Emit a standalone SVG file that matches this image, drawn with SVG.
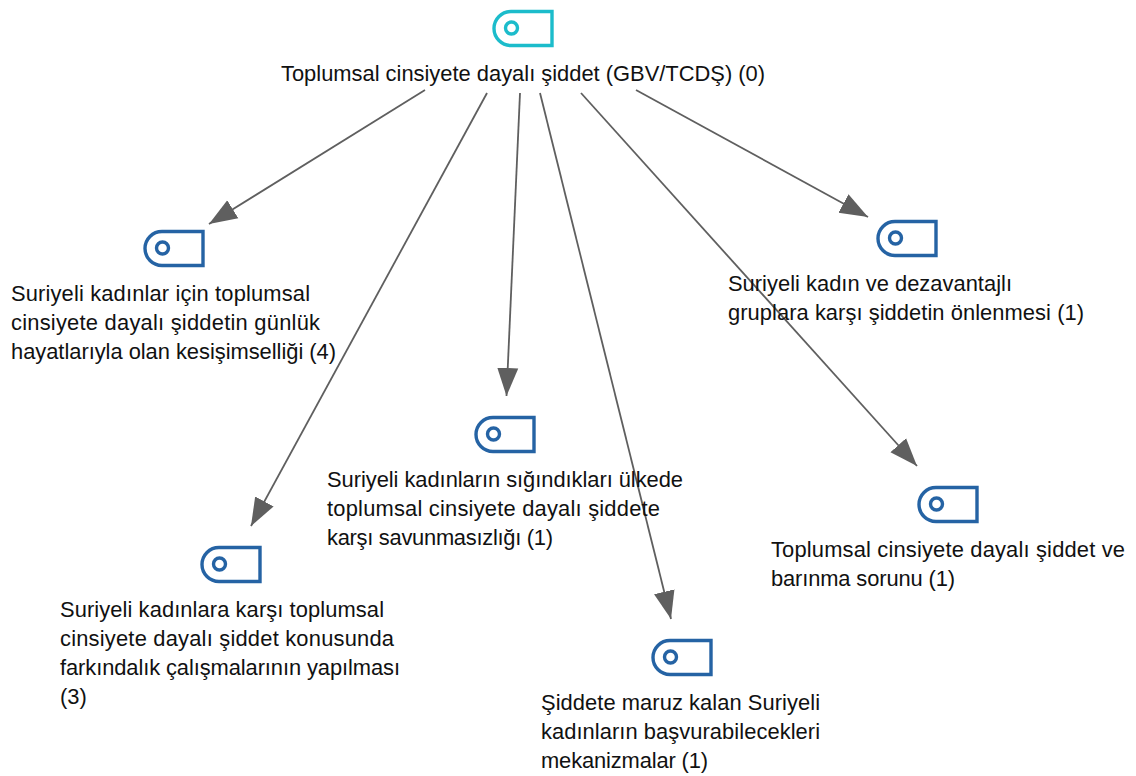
<svg xmlns="http://www.w3.org/2000/svg" width="1136" height="776" viewBox="0 0 1136 776">
<style>
text{font-family:"Liberation Sans",Arial,sans-serif;font-size:21.9px;fill:#111}
.conn{stroke:#5f5f5f;stroke-width:1.8;fill:none;marker-end:url(#arr)}
.ic{fill:#fff;stroke-width:3.4}
.b{stroke:#2563a4}
.c{stroke:#1cbccb}
</style>
<defs>
<marker id="arr" markerUnits="userSpaceOnUse" markerWidth="32" markerHeight="24" refX="28" refY="12" orient="auto"><path d="M0,1.500 L28,12 L0,22.500 Z" fill="#5f5f5f"/></marker>
<g id="tag"><path d="M59,1.500 H18 A17,17 0 0 0 18,35.500 H59 Z"/><circle cx="18.500" cy="18" r="6"/></g>
</defs>
<g id="connectors">
<line class="conn" x1="425" y1="90" x2="209" y2="224"/>
<line class="conn" x1="487" y1="93" x2="251" y2="526"/>
<line class="conn" x1="520" y1="93" x2="506.500" y2="396"/>
<line class="conn" x1="540" y1="93" x2="671" y2="619"/>
<line class="conn" x1="581" y1="93" x2="917" y2="466"/>
<line class="conn" x1="636" y1="90" x2="868" y2="217"/>
</g>
<g id="n0"><use href="#tag" x="493" y="10" class="ic c"/><text x="281" y="81" textLength="484">Toplumsal cinsiyete dayalı şiddet (GBV/TCDŞ) (0)</text></g>
<g id="n1"><use href="#tag" x="144" y="230" class="ic b"/><text x="11" y="301" textLength="299">Suriyeli kadınlar için toplumsal</text><text x="11" y="330" textLength="309">cinsiyete dayalı şiddetin günlük</text><text x="11" y="359" textLength="325">hayatlarıyla olan kesişimselliği (4)</text></g>
<g id="n2"><use href="#tag" x="201" y="546" class="ic b"/><text x="60" y="617" textLength="324">Suriyeli kadınlara karşı toplumsal</text><text x="60" y="646" textLength="334">cinsiyete dayalı şiddet konusunda</text><text x="60" y="675" textLength="340">farkındalık çalışmalarının yapılması</text><text x="60" y="704">(3)</text></g>
<g id="n3"><use href="#tag" x="475" y="416" class="ic b"/><text x="327" y="487" textLength="356">Suriyeli kadınların sığındıkları ülkede</text><text x="327" y="516" textLength="333">toplumsal cinsiyete dayalı şiddete</text><text x="327" y="545" textLength="226">karşı savunmasızlığı (1)</text></g>
<g id="n4"><use href="#tag" x="652" y="639" class="ic b"/><text x="541" y="710" textLength="279">Şiddete maruz kalan Suriyeli</text><text x="541" y="739" textLength="279">kadınların başvurabilecekleri</text><text x="541" y="768" textLength="167">mekanizmalar (1)</text></g>
<g id="n5"><use href="#tag" x="918" y="486" class="ic b"/><text x="771" y="557" textLength="354">Toplumsal cinsiyete dayalı şiddet ve</text><text x="771" y="586" textLength="184">barınma sorunu (1)</text></g>
<g id="n6"><use href="#tag" x="877" y="220" class="ic b"/><text x="728" y="291" textLength="284">Suriyeli kadın ve dezavantajlı</text><text x="728" y="320" textLength="356">gruplara karşı şiddetin önlenmesi (1)</text></g>
</svg>
